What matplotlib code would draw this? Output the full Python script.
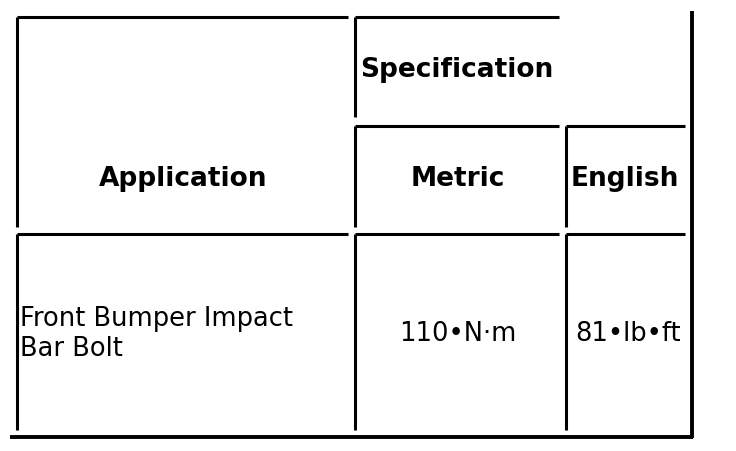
import matplotlib
matplotlib.use("Agg")
import matplotlib.pyplot as plt

# table content
spec_header = "Specification"
col_headers = ["Application", "Metric", "English"]
row_values = ["Front Bumper Impact\nBar Bolt", "110\u2022N\u00b7m", "81\u2022lb\u2022ft"]

# layout in pixels (y grows downward)
col_x = [17, 355, 566, 692]
row_y = [18, 127, 235, 438]
gap = 7
lw_in = 2.2
lw_out = 2.8


def cell(ax, x0, y0, x1, y1):
    # each cell shows only its top and left border, a bit short of the next cell
    ax.plot([x0, x1 - gap], [y0, y0], color="black", lw=lw_in, solid_capstyle="butt")
    ax.plot([x0, x0], [y0, y1 - gap], color="black", lw=lw_in, solid_capstyle="butt")


def main():
    fig = plt.figure(figsize=(7.36, 4.52), dpi=100)
    ax = fig.add_axes([0, 0, 1, 1])
    ax.set_xlim(0, 736)
    ax.set_ylim(452, 0)
    ax.axis("off")

    # header cells
    cell(ax, col_x[0], row_y[0], col_x[1], row_y[2])
    ax.plot([col_x[1], col_x[2] - gap], [row_y[0], row_y[0]], color="black", lw=lw_in, solid_capstyle="butt")
    ax.plot([col_x[1], col_x[1]], [row_y[0], row_y[1] - 9], color="black", lw=lw_in, solid_capstyle="butt")
    cell(ax, col_x[1], row_y[1], col_x[2], row_y[2])
    cell(ax, col_x[2], row_y[1], col_x[3], row_y[2])

    # data row
    for i in range(3):
        cell(ax, col_x[i], row_y[2], col_x[i + 1], row_y[3])

    # outer right and bottom border
    ax.plot([col_x[3], col_x[3]], [12, row_y[3] + 1], color="black", lw=lw_out, solid_capstyle="butt")
    ax.plot([10, col_x[3] + 1], [row_y[3], row_y[3]], color="black", lw=lw_out, solid_capstyle="butt")

    bold = dict(fontfamily="DejaVu Sans", fontweight="bold", fontsize=19, color="black")
    ax.text(360, 70, spec_header, ha="left", va="center", **bold)
    ax.text(183, 179, col_headers[0], ha="center", va="center", **bold)
    ax.text(458, 179, col_headers[1], ha="center", va="center", **bold)
    ax.text(571, 179, col_headers[2], ha="left", va="center", **bold)

    reg = dict(fontfamily="DejaVu Sans", fontsize=18.5, color="black")
    ax.text(20, 334, row_values[0], ha="left", va="center", linespacing=1.2, **reg)
    ax.text(458, 334, row_values[1], ha="center", va="center", **reg)
    ax.text(575, 334, row_values[2], ha="left", va="center", **reg)

    fig.savefig("out.png", dpi=100, facecolor="white")


if __name__ == "__main__":
    main()
